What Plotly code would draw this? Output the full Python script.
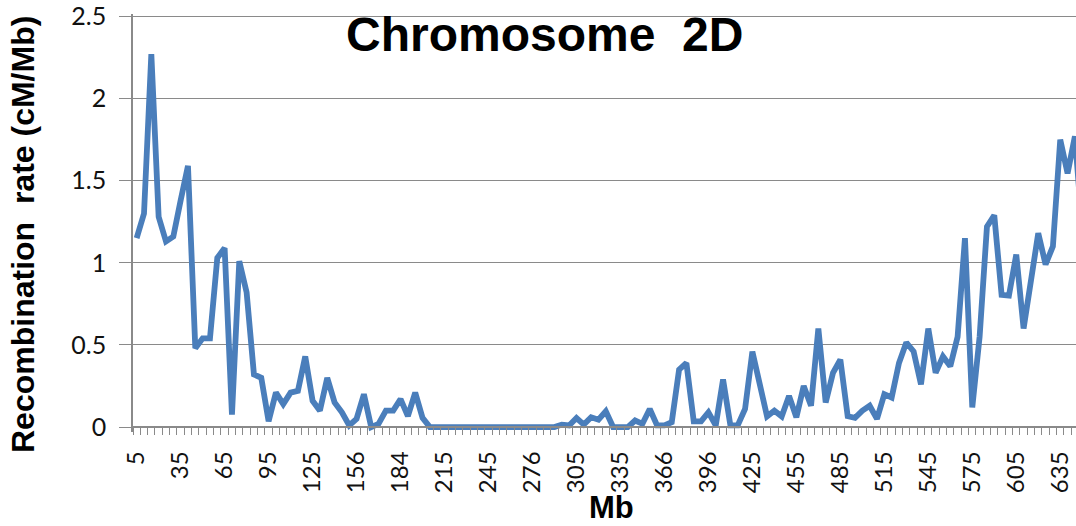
import plotly.graph_objects as go

# Recombination rate per ~5 Mb bin (cM/Mb)
rate = [
    1.15, 1.30, 2.27, 1.28, 1.13, 1.16, 1.38, 1.59, 0.48, 0.54,
    0.54, 1.03, 1.09, 0.076, 1.01, 0.82, 0.32, 0.30, 0.035, 0.21,
    0.14, 0.21, 0.22, 0.43, 0.16, 0.10, 0.30, 0.15, 0.09, 0.01,
    0.05, 0.20, 0.0, 0.02, 0.10, 0.10, 0.17, 0.066, 0.21, 0.056,
    0.0, 0.0, 0.0, 0.0, 0.0, 0.0, 0.0, 0.0, 0.0, 0.0,
    0.0, 0.0, 0.0, 0.0, 0.0, 0.0, 0.0, 0.0, 0.015, 0.01,
    0.055, 0.015, 0.06, 0.045, 0.096, 0.0, 0.0, 0.0, 0.04, 0.02,
    0.11, 0.01, 0.01, 0.03, 0.35, 0.39, 0.035, 0.035, 0.09, 0.01,
    0.29, 0.01, 0.01, 0.11, 0.46, 0.26, 0.065, 0.10, 0.065, 0.19,
    0.06, 0.25, 0.13, 0.60, 0.15, 0.33, 0.41, 0.066, 0.056, 0.10,
    0.13, 0.05, 0.20, 0.18, 0.39, 0.515, 0.46, 0.26, 0.60, 0.33,
    0.43, 0.37, 0.55, 1.15, 0.12, 0.55, 1.22, 1.29, 0.805, 0.80,
    1.05, 0.60, 0.88, 1.18, 0.99, 1.10, 1.75, 1.545, 1.77, 1.20,
]
bins = list(range(len(rate)))

# category labels shown on the axis (every 6th bin)
label_every = 6
tick_labels = ["5", "35", "65", "95", "125", "156", "184", "215", "245", "276", "305",
               "335", "366", "396", "425", "455", "485", "515", "545", "575", "605", "635"]
tick_pos = [i * label_every for i in range(len(tick_labels))]

y_ticks = [0, 0.5, 1, 1.5, 2, 2.5]
y_ticktext = ["0", "0.5", "1", "1.5", "2", "2.5"]

W, H = 1076, 526
ML = 133
Y0PX = 427.5
PX_PER_UNIT = 164.6
YMIN, YMAX = -0.03, 2.515
MT = Y0PX - YMAX * PX_PER_UNIT
plot_h = (YMAX - YMIN) * PX_PER_UNIT
MB = H - MT - plot_h
XMAX = -0.5 + (W - ML) / 7.33

GRID = "#8a8a8a"
BLUE = "#4a7ebb"

def px_x(p):
    return (p - ML) / (W - ML)

def px_y(p):
    return (H - MB - p) / plot_h

fig = go.Figure()
fig.add_trace(go.Scatter(x=bins, y=rate, mode="lines",
                         line=dict(color=BLUE, width=5.8), hoverinfo="skip"))

fig.update_layout(
    width=W, height=H,
    margin=dict(l=ML, r=0, t=MT, b=MB, pad=0, autoexpand=False),
    plot_bgcolor="white", paper_bgcolor="white",
    showlegend=False,
    xaxis=dict(
        range=[-0.5, XMAX], anchor="free", position=(0 - YMIN) / (YMAX - YMIN),
        automargin=False,
        tickmode="array", tickvals=tick_pos, ticktext=tick_labels,
        tickangle=-90, ticks="", showgrid=False, zeroline=False,
        showline=True, linecolor=GRID, linewidth=1.5,
        tickfont=dict(family="Lato", size=24, color="#111"),
        ticklabelstandoff=14,
        minor=dict(ticks="outside", ticklen=7, tickwidth=1.3, tickcolor=GRID,
                   tick0=-0.5, dtick=1, showgrid=False),
    ),
    yaxis=dict(
        range=[YMIN, YMAX], automargin=False,
        tickmode="array", tickvals=y_ticks, ticktext=y_ticktext,
        ticks="outside", ticklen=12, tickwidth=1.3, tickcolor=GRID,
        showgrid=True, gridcolor=GRID, gridwidth=1.3, zeroline=False,
        showline=True, linecolor=GRID, linewidth=1.5,
        tickfont=dict(family="Lato", size=25, color="#111"),
        ticklabelstandoff=8,
    ),
    annotations=[
        dict(text="<b>Chromosome  2D</b>", xref="paper", yref="paper",
             x=px_x(544), y=px_y(34), xanchor="center", yanchor="middle",
             showarrow=False, font=dict(family="Liberation Sans", size=48, color="#000")),
        dict(text="<b>Mb</b>", xref="paper", yref="paper",
             x=px_x(611), y=px_y(489), xanchor="center", yanchor="top",
             showarrow=False, font=dict(family="Liberation Sans", size=31, color="#000")),
        dict(text="<b>Recombination  rate (cM/Mb)</b>", xref="paper", yref="paper",
             x=px_x(23), y=px_y(235), xanchor="center", yanchor="middle", textangle=-90,
             showarrow=False, font=dict(family="Liberation Sans", size=32, color="#000")),
    ],
)

fig.write_html("out.html", config={"displayModeBar": False},
               post_script="document.body.style.margin='0';document.body.style.padding='0';")
